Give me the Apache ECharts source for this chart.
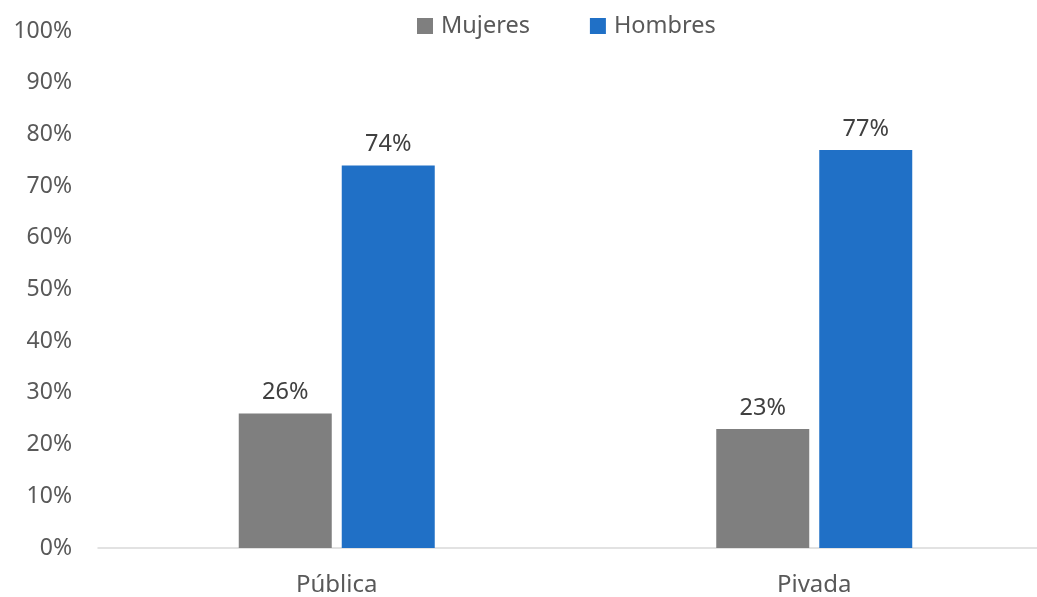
<!DOCTYPE html>
<html><head><meta charset="utf-8">
<script src="https://cdn.jsdelivr.net/npm/echarts@6/dist/echarts.min.js"></script>
<style>html,body{margin:0;padding:0;background:#fff;overflow:hidden;width:1037px;height:597px}#c{width:1060px;height:597px}</style>
</head><body><div id="c"></div>
<script>
const categories = ['Pública', 'Pivada'];
const mujeres = [26, 23];
const hombres = [74, 77];
const yTicks = [0, 10, 20, 30, 40, 50, 60, 70, 80, 90, 100];

const chart = echarts.init(document.getElementById('c'), null, {renderer: 'canvas'});
const font = '"Noto Sans", sans-serif';
const lbl = {show: true, position: 'top', distance: 9, formatter: p => p.value + '%', color: '#404040', fontSize: 23.5, fontFamily: font};
chart.setOption({
  animation: false,
  textStyle: {fontFamily: font},
  legend: {
    top: 9, left: 412, itemWidth: 16, itemHeight: 16, itemGap: 60,
    icon: 'rect',
    textStyle: {color: '#595959', fontSize: 23.5, fontFamily: font, padding: [0, 0, 0, 3]},
    data: ['Mujeres', 'Hombres']
  },
  grid: {left: 98, top: 31, right: 7, bottom: 46, containLabel: false},
  xAxis: {
    type: 'category', data: categories,
    axisLine: {lineStyle: {color: '#d9d9d9', width: 1.5}},
    axisTick: {show: false},
    axisLabel: {color: '#595959', fontSize: 24, fontFamily: font, margin: 25}
  },
  yAxis: {
    type: 'value', min: yTicks[0], max: yTicks[yTicks.length - 1], interval: 10,
    axisLine: {show: false}, axisTick: {show: false}, splitLine: {show: false},
    axisLabel: {color: '#595959', fontSize: 23, fontFamily: font, margin: 26, formatter: v => v + '%'}
  },
  series: [
    {name: 'Mujeres', type: 'bar', data: mujeres, barWidth: 93, barGap: '10.75%', itemStyle: {color: '#7f7f7f'}, label: lbl},
    {name: 'Hombres', type: 'bar', data: hombres, barWidth: 93, barGap: '10.75%', itemStyle: {color: '#2070c6'}, label: lbl}
  ]
});
</script></body></html>
